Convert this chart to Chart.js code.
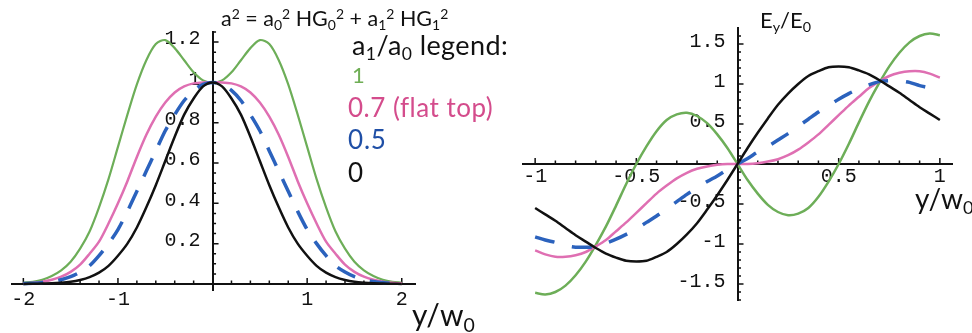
<!DOCTYPE html>
<html>
<head>
<meta charset="utf-8">
<script src="https://cdn.jsdelivr.net/npm/chart.js@4.4.1/dist/chart.umd.min.js"></script>
<style>
  body { margin: 0; width: 972px; height: 333px; background: #fff; position: relative; overflow: hidden; font-family: Lato, "Open Sans", sans-serif; color: #111; }
  canvas { position: absolute; top: 0; }
  #intensityChart { left: 0; }
  #fieldChart { left: 500px; }
  .txt { position: absolute; white-space: nowrap; line-height: 1; }
  .sup { font-size: 0.65em; position: relative; top: -0.5em; }
  .sub { font-size: 0.65em; position: relative; top: 0.3em; }
</style>
</head>
<body>
<canvas id="intensityChart" width="460" height="333"></canvas>
<canvas id="fieldChart" width="472" height="333"></canvas>

<div class="txt" style="left:221px; top:8px; font-size:21.5px;">a<span class="sup">2</span> = a<span class="sub">0</span><span class="sup">2</span> HG<span class="sub">0</span><span class="sup">2</span> + a<span class="sub">1</span><span class="sup">2</span> HG<span class="sub">1</span><span class="sup">2</span></div>
<div class="txt" style="left:352px; top:31px; font-size:27px; letter-spacing:0.4px;">a<span class="sub">1</span>/a<span class="sub">0</span> legend:</div>
<div class="txt" style="left:352px; top:64px; font-size:22px; color:#6fae55;">1</div>
<div class="txt" style="left:348px; top:94px; font-size:26px; letter-spacing:0.5px; color:#d44c8c;">0.7 (flat top)</div>
<div class="txt" style="left:348px; top:126px; font-size:26px; letter-spacing:0.8px; color:#1f4fa6;">0.5</div>
<div class="txt" style="left:348px; top:159px; font-size:26px;">0</div>
<div class="txt" style="left:412px; top:299px; font-size:30px;">y/w<span class="sub">0</span></div>
<div class="txt" style="left:760px; top:9px; font-size:22px;">E<span class="sub">y</span>/E<span class="sub">0</span></div>
<div class="txt" style="left:915px; top:184px; font-size:28px;">y/w<span class="sub">0</span></div>

<script>
// left panel: intensity profiles, y/w0 from -2 to 2
const intensityX = [-2.0,-1.9,-1.8,-1.7,-1.6,-1.5,-1.4,-1.3,-1.2,-1.1,-1.0,-0.9,-0.8,-0.7,-0.6,-0.5,-0.4,-0.3,-0.2,-0.1,0,
  0.1,0.2,0.3,0.4,0.5,0.6,0.7,0.8,0.9,1.0,1.1,1.2,1.3,1.4,1.5,1.6,1.7,1.8,1.9,2.0];
const intensityRatio1 = [0.006,0.011,0.021,0.039,0.067,0.11,0.175,0.26,0.38,0.52,0.68,0.84,0.99,1.11,1.19,1.21,1.17,1.11,1.05,1.01,1,
  1.01,1.05,1.11,1.17,1.21,1.19,1.11,0.99,0.84,0.68,0.52,0.38,0.26,0.175,0.11,0.067,0.039,0.021,0.011,0.006];
const intensityRatio07 = [0.003,0.006,0.011,0.021,0.036,0.06,0.096,0.15,0.21,0.30,0.40,0.51,0.63,0.74,0.83,0.90,0.95,0.98,0.995,1.0,1,
  1.0,0.995,0.98,0.95,0.90,0.83,0.74,0.63,0.51,0.40,0.30,0.21,0.15,0.096,0.06,0.036,0.021,0.011,0.006,0.003];
const intensityRatio05 = [0.002,0.003,0.007,0.012,0.021,0.036,0.059,0.09,0.14,0.20,0.27,0.36,0.46,0.56,0.66,0.76,0.84,0.91,0.96,0.99,1,
  0.99,0.96,0.91,0.84,0.76,0.66,0.56,0.46,0.36,0.27,0.20,0.14,0.09,0.059,0.036,0.021,0.012,0.007,0.003,0.002];
const intensityRatio0 = [0,0.001,0.002,0.003,0.006,0.011,0.02,0.034,0.056,0.09,0.14,0.20,0.28,0.38,0.49,0.61,0.73,0.84,0.92,0.98,1,
  0.98,0.92,0.84,0.73,0.61,0.49,0.38,0.28,0.20,0.14,0.09,0.056,0.034,0.02,0.011,0.006,0.003,0.002,0.001,0];
const intensityXTicks = [-2, -1, 1, 2];
const intensityYTicks = [0.2, 0.4, 0.6, 0.8, 1, 1.2];

// right panel: Ey/E0, y/w0 from -1 to 1
const fieldX = [-1.0,-0.95,-0.9,-0.85,-0.8,-0.75,-0.7,-0.65,-0.6,-0.55,-0.5,-0.45,-0.4,-0.35,-0.3,-0.25,-0.2,-0.15,-0.1,-0.05,0,
  0.05,0.1,0.15,0.2,0.25,0.3,0.35,0.4,0.45,0.5,0.55,0.6,0.65,0.7,0.75,0.8,0.85,0.9,0.95,1.0];
const fieldRatio1 = [-1.61,-1.63,-1.60,-1.52,-1.39,-1.22,-1.01,-0.78,-0.52,-0.25,0,0.22,0.41,0.55,0.62,0.64,0.60,0.51,0.37,0.20,0,
  -0.20,-0.37,-0.51,-0.60,-0.64,-0.62,-0.55,-0.41,-0.22,0,0.25,0.52,0.78,1.01,1.22,1.39,1.52,1.60,1.63,1.61];
const fieldRatio07 = [-1.08,-1.13,-1.16,-1.16,-1.14,-1.10,-1.03,-0.95,-0.84,-0.73,-0.61,-0.49,-0.37,-0.27,-0.18,-0.11,-0.06,-0.03,-0.01,0,0,
  0,0.01,0.03,0.06,0.11,0.18,0.27,0.37,0.49,0.61,0.73,0.84,0.95,1.03,1.10,1.14,1.16,1.16,1.13,1.08];
const fieldRatio05 = [-0.91,-0.95,-0.98,-1.02,-1.04,-1.04,-1.03,-0.99,-0.94,-0.88,-0.81,-0.73,-0.65,-0.56,-0.47,-0.38,-0.30,-0.22,-0.15,-0.07,0,
  0.07,0.15,0.22,0.30,0.38,0.47,0.56,0.65,0.73,0.81,0.88,0.94,0.99,1.03,1.04,1.04,1.02,0.98,0.95,0.91];
const fieldRatio0 = [-0.55,-0.63,-0.71,-0.80,-0.89,-0.97,-1.05,-1.12,-1.17,-1.21,-1.22,-1.21,-1.16,-1.10,-1.00,-0.88,-0.74,-0.57,-0.39,-0.20,0,
  0.20,0.39,0.57,0.74,0.88,1.00,1.10,1.16,1.21,1.22,1.21,1.17,1.12,1.05,0.97,0.89,0.80,0.71,0.63,0.55];
const fieldXTicks = [-1, -0.5, 0.5, 1];
const fieldYTicks = [-1.5, -1, -0.5, 0.5, 1, 1.5];

const GREEN = '#6dae58';
const PINK = '#df6fb2';
const BLUE = '#2b62bd';
const BLACK = '#111111';

function toPoints(xs, ys) {
  return xs.map((x, i) => ({ x: x, y: ys[i] }));
}

function curve(xs, ys, color, width, dash) {
  return {
    data: toPoints(xs, ys),
    borderColor: color,
    borderWidth: width,
    borderDash: dash || [],
    showLine: true,
    pointRadius: 0,
    tension: 0.3,
    fill: false
  };
}

function isMajor(v, step) {
  const r = v / step;
  return Math.abs(r - Math.round(r)) < 1e-6;
}

// Mathematica style ticks, drawn on the inner side of each axis
const axisTicks = {
  id: 'axisTicks',
  beforeDatasetsDraw(chart, args, o) {
    const { ctx } = chart;
    const xs = chart.scales.x, ys = chart.scales.y;
    const x0 = xs.getPixelForValue(0);
    const y0 = ys.getPixelForValue(0);
    ctx.save();
    ctx.strokeStyle = '#111';
    ctx.lineWidth = 1.5;
    ctx.beginPath();
    for (let k = Math.ceil(xs.min / o.xMinor); k * o.xMinor <= xs.max; k++) {
      if (k === 0) continue;
      const v = k * o.xMinor;
      const px = xs.getPixelForValue(v);
      const len = isMajor(v, o.xMajor) ? 6 : 3.5;
      ctx.moveTo(px, y0);
      ctx.lineTo(px, y0 - len);
    }
    for (let k = Math.ceil(ys.min / o.yMinor); k * o.yMinor <= ys.max; k++) {
      if (k === 0) continue;
      const v = k * o.yMinor;
      const py = ys.getPixelForValue(v);
      const len = isMajor(v, o.yMajor) ? 6 : 3.5;
      ctx.moveTo(x0, py);
      ctx.lineTo(x0 + len, py);
    }
    ctx.stroke();
    ctx.restore();
  }
};

function noSpace(s) {
  if (s.isHorizontal()) s.height = 0; else s.width = 0;
  s.paddingLeft = s.paddingRight = s.paddingTop = s.paddingBottom = 0;
}

// y labels of a centred axis sit flush on the axis, so a trailing space keeps them off it
function axisOptions(min, max, tickValues, cross, labelPad, labelShift, suffix) {
  return {
    type: 'linear',
    min: min,
    max: max,
    position: cross,
    grid: { display: false, drawTicks: false },
    border: { display: true, color: '#111', width: 2 },
    ticks: {
      autoSkip: false,
      maxRotation: 0,
      padding: labelPad,
      labelOffset: labelShift || 0,
      color: '#111',
      font: { family: 'Liberation Mono', size: 20 },
      callback: (v) => String(v) + (suffix || '')
    },
    afterBuildTicks: (s) => { s.ticks = tickValues.map(v => ({ value: v })); },
    afterFit: noSpace
  };
}

function makeChart(id, datasets, xOpts, yOpts, padding, tickOpts) {
  return new Chart(document.getElementById(id).getContext('2d'), {
    type: 'scatter',
    data: { datasets: datasets },
    options: {
      responsive: false,
      animation: false,
      layout: { padding: padding },
      plugins: {
        legend: { display: false },
        tooltip: { enabled: false },
        axisTicks: tickOpts
      },
      scales: { x: xOpts, y: yOpts }
    },
    plugins: [axisTicks]
  });
}

makeChart('intensityChart',
  [
    curve(intensityX, intensityRatio0, BLACK, 2.5),
    curve(intensityX, intensityRatio05, BLUE, 3.5, [20, 15]),
    curve(intensityX, intensityRatio07, PINK, 2.5),
    curve(intensityX, intensityRatio1, GREEN, 2.2)
  ],
  axisOptions(-2.12, 2.14, intensityXTicks, { y: 0 }, 4),
  axisOptions(-0.03, 1.25, intensityYTicks, { x: 0 }, 0, -3, ' '),
  { left: 12, right: 45, top: 32, bottom: 43 },
  { xMinor: 0.2, xMajor: 1, yMinor: 0.05, yMajor: 0.2 }
);

makeChart('fieldChart',
  [
    curve(fieldX, fieldRatio0, BLACK, 2.5),
    curve(fieldX, fieldRatio05, BLUE, 3.5, [20, 18]),
    curve(fieldX, fieldRatio07, PINK, 2.5),
    curve(fieldX, fieldRatio1, GREEN, 2.5)
  ],
  axisOptions(-1.06, 1.06, fieldXTicks, { y: 0 }, 1),
  axisOptions(-1.7, 1.7, fieldYTicks, { x: 0 }, 0, -2, ' '),
  { left: 23, right: 20, top: 28, bottom: 33 },
  { xMinor: 0.1, xMajor: 0.5, yMinor: 0.1, yMajor: 0.5 }
);
</script>
</body>
</html>
